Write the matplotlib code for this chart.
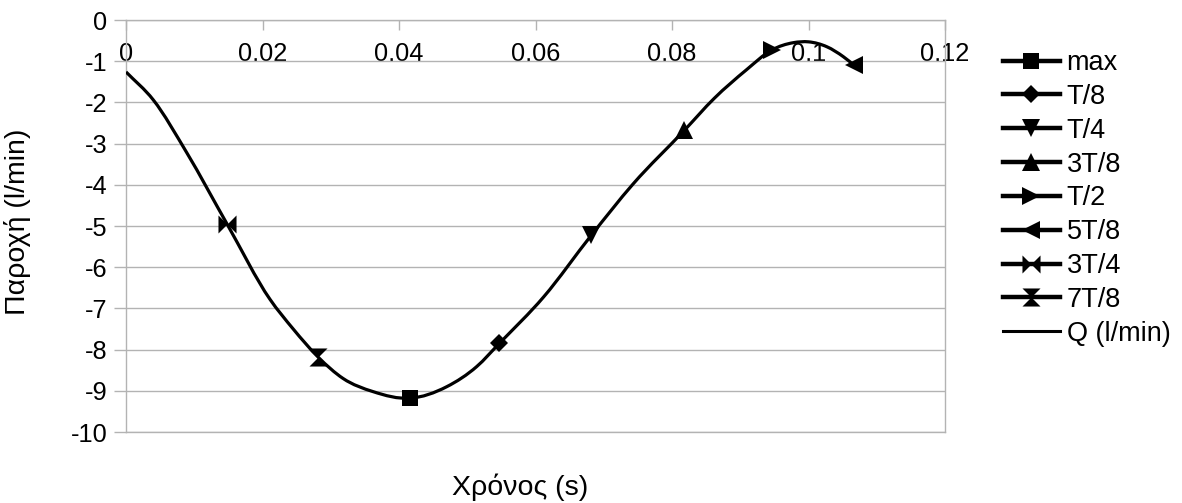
import matplotlib
matplotlib.use("Agg")
import matplotlib.pyplot as plt
from matplotlib.lines import Line2D
from matplotlib.path import Path
from matplotlib.patches import PathPatch

plt.rcParams['font.family'] = ['Liberation Sans', 'DejaVu Sans']
plt.rcParams['axes.unicode_minus'] = False

# Flow-rate curve Q(t)
q_time = [0.0, 0.0040, 0.0089, 0.0148, 0.0211, 0.0245, 0.0282, 0.0318, 0.0362,
          0.0416, 0.0470, 0.0514, 0.0547, 0.0612, 0.0682, 0.0743, 0.0818, 0.0862,
          0.0909, 0.0946, 0.0978, 0.1000, 0.1027, 0.1051, 0.1067]
q_flow = [-1.26, -1.94, -3.22, -4.95, -6.78, -7.50, -8.19, -8.70, -9.02,
          -9.18, -8.90, -8.41, -7.85, -6.72, -5.22, -3.98, -2.68, -1.90,
          -1.21, -0.73, -0.55, -0.53, -0.65, -0.89, -1.10]

# Characteristic points over one period
point_labels = ['max', 'T/8', 'T/4', '3T/8', 'T/2', '5T/8', '3T/4', '7T/8']
point_time = [0.0416, 0.0547, 0.0682, 0.0818, 0.0946, 0.1067, 0.0148, 0.0282]
point_flow = [-9.18, -7.85, -5.22, -2.68, -0.73, -1.10, -4.95, -8.19]

x_ticks = [0, 0.02, 0.04, 0.06, 0.08, 0.1, 0.12]
x_tick_labels = ['0', '0.02', '0.04', '0.06', '0.08', '0.1', '0.12']
y_ticks = list(range(-10, 1))


def smooth_path(xs, ys):
    """Cubic Hermite (Bezier) path passing through every (x, y) point."""
    n = len(xs)
    h = [xs[i + 1] - xs[i] for i in range(n - 1)]
    d = [(ys[i + 1] - ys[i]) / h[i] for i in range(n - 1)]
    m = [d[0]]
    for i in range(1, n - 1):
        m.append((h[i - 1] * d[i] + h[i] * d[i - 1]) / (h[i - 1] + h[i]))
    m.append(d[-1])
    verts = [(xs[0], ys[0])]
    codes = [Path.MOVETO]
    for i in range(n - 1):
        c1 = (xs[i] + h[i] / 3, ys[i] + m[i] * h[i] / 3)
        c2 = (xs[i + 1] - h[i] / 3, ys[i + 1] - m[i + 1] * h[i] / 3)
        verts += [c1, c2, (xs[i + 1], ys[i + 1])]
        codes += [Path.CURVE4] * 3
    return Path(verts, codes)


# marker shapes: bow-tie (sideways) and hourglass
bowtie = Path([(-1, -1), (1, 1), (1, -1), (-1, 1), (-1, -1)],
              [Path.MOVETO, Path.LINETO, Path.LINETO, Path.LINETO, Path.CLOSEPOLY])
hourglass = Path([(-1, 1), (1, 1), (-1, -1), (1, -1), (-1, 1)],
                 [Path.MOVETO, Path.LINETO, Path.LINETO, Path.LINETO, Path.CLOSEPOLY])
markers = ['s', 'D', 'v', '^', '>', '<', bowtie, hourglass]
msizes = [12, 9.5, 13, 13, 13, 13, 13, 13]

grid_c = '#b3b3b3'

fig = plt.figure(figsize=(11.82, 5.03), dpi=100)
ax = fig.add_axes([126 / 1182, 1 - 432 / 503, (945 - 126) / 1182, (432 - 20) / 503])

ax.add_patch(PathPatch(smooth_path(q_time, q_flow), facecolor='none',
                       edgecolor='black', lw=2.3, joinstyle='round',
                       capstyle='butt', zorder=3))
for t, q, mk, s in zip(point_time, point_flow, markers, msizes):
    ax.plot([t], [q], linestyle='none', marker=mk, markersize=s,
            color='black', markeredgewidth=0, zorder=4)

ax.set_xlim(0, 0.12)
ax.set_ylim(-10, 0)
ax.set_xticks(x_ticks)
ax.set_xticklabels(x_tick_labels)
ax.set_yticks(y_ticks)
ax.yaxis.grid(True, color=grid_c, lw=1.0)
ax.set_axisbelow(True)
for sp in ax.spines.values():
    sp.set_color(grid_c)
    sp.set_linewidth(1.0)

ax.tick_params(axis='x', bottom=False, labelbottom=False, top=True, labeltop=True,
               direction='in', length=7.5, width=1.0, color=grid_c,
               pad=-33, labelsize=18.3)
ax.tick_params(axis='y', direction='out', length=8.5, width=1.0, color=grid_c,
               pad=5, labelsize=18.3)

fig.text(18 / 1182, 1 - 222 / 503, 'Παροχή (l/min)', rotation=90,
         ha='center', va='center', fontsize=20.5)
fig.text(520 / 1182, 1 - 487 / 503, 'Χρόνος (s)', ha='center', va='center',
         fontsize=20.5)

handles = []
for lab, mk, s in zip(point_labels, markers, msizes):
    handles.append(Line2D([], [], color='black', lw=3.2, marker=mk,
                          markersize=s, markeredgewidth=0, label=lab))
handles.append(Line2D([], [], color='black', lw=2.2, label='Q (l/min)'))

fig.legend(handles=handles, loc='upper left',
           bbox_to_anchor=(1003 / 1182, 1 - 50 / 503), frameon=False,
           fontsize=19.5, handlelength=2.1, handletextpad=0.25,
           labelspacing=0.29, borderpad=0, borderaxespad=0)

fig.savefig('out.png', dpi=100)
